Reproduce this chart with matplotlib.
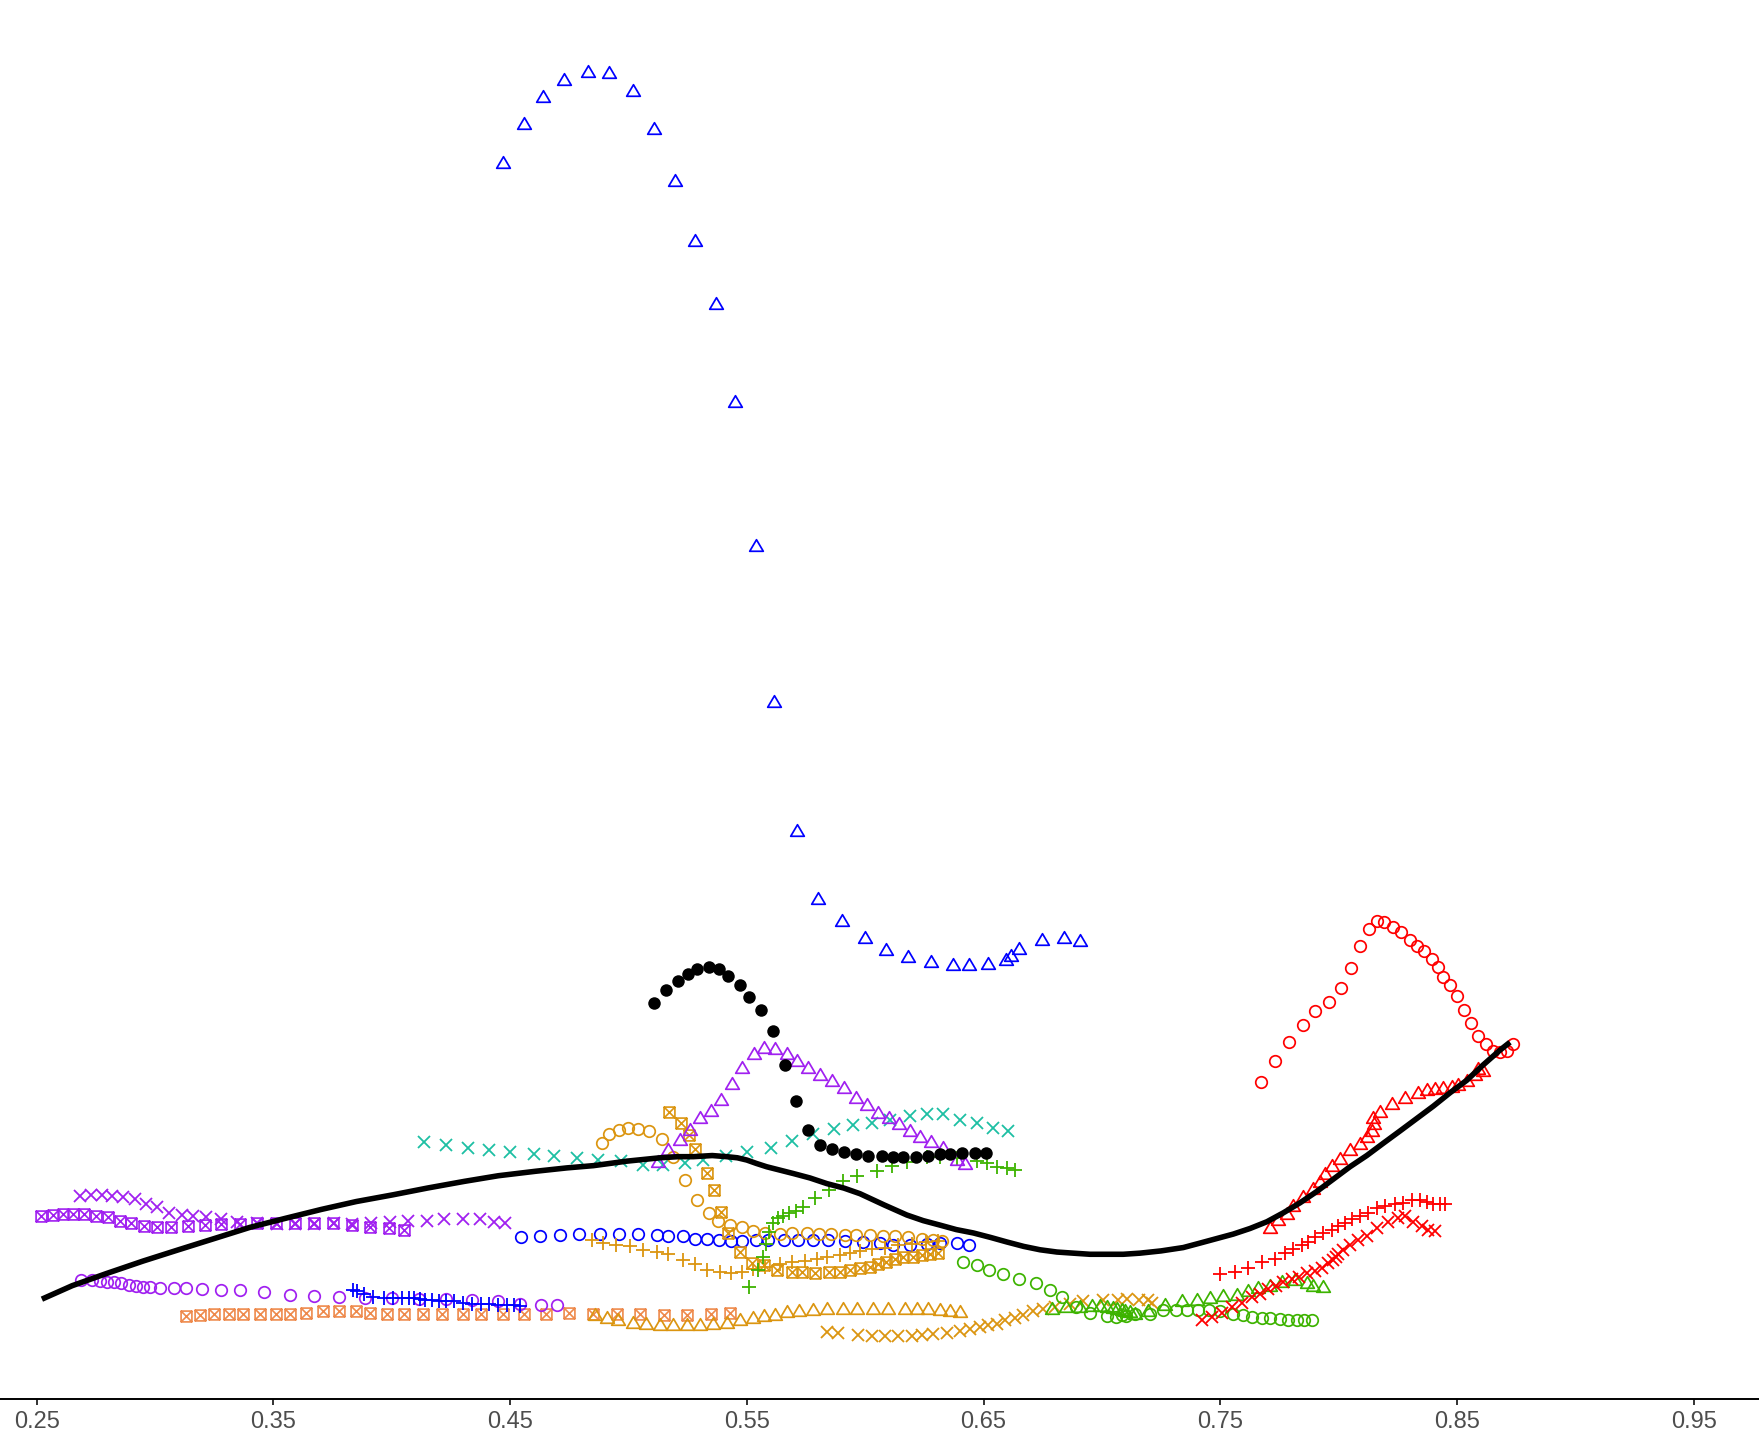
import matplotlib
matplotlib.use("Agg")
import matplotlib.pyplot as plt
from matplotlib.path import Path

# ---- data ----
blueTriX = [0.4468, 0.4558, 0.4639, 0.4729, 0.4828, 0.4918, 0.5018, 0.5108, 0.5198, 0.5279,
            0.5369, 0.5449, 0.5539, 0.5615, 0.5710, 0.5800, 0.5900, 0.5999, 0.6089, 0.6179,
            0.6279, 0.6369, 0.6440, 0.6520, 0.6596, 0.6615, 0.6648, 0.6748, 0.6838, 0.6909]
blueTriY = [11.03, 11.37, 11.61, 11.77, 11.84, 11.83, 11.67, 11.33, 10.87, 10.33,
            9.77, 8.90, 7.61, 6.22, 5.07, 4.47, 4.27, 4.12, 4.01, 3.95,
            3.90, 3.88, 3.88, 3.89, 3.92, 3.96, 4.02, 4.10, 4.12, 4.09]

blackX = [0.5109, 0.5159, 0.5209, 0.5250, 0.5290, 0.5340, 0.5381, 0.5421, 0.5470, 0.5511,
          0.5560, 0.5611, 0.5660, 0.5709, 0.5760, 0.5809, 0.5860, 0.5909, 0.5960, 0.6011,
          0.6070, 0.6119, 0.6161, 0.6214, 0.6266, 0.6316, 0.6360, 0.6410, 0.6464, 0.6509]
blackY = [3.53, 3.65, 3.73, 3.79, 3.83, 3.85, 3.83, 3.77, 3.69, 3.58,
          3.47, 3.28, 2.98, 2.66, 2.40, 2.26, 2.23, 2.20, 2.18, 2.17,
          2.17, 2.16, 2.16, 2.16, 2.17, 2.18, 2.18, 2.19, 2.19, 2.19]

purpleTriX = [0.5124, 0.5168, 0.5218, 0.5260, 0.5302, 0.5350, 0.5391, 0.5439, 0.5480, 0.5530,
              0.5571, 0.5620, 0.5670, 0.5711, 0.5760, 0.5811, 0.5860, 0.5911, 0.5960, 0.6009,
              0.6053, 0.6102, 0.6142, 0.6189, 0.6232, 0.6279, 0.6328, 0.6389, 0.6421]
purpleTriY = [2.12, 2.23, 2.32, 2.41, 2.51, 2.58, 2.67, 2.82, 2.96, 3.08,
              3.14, 3.13, 3.08, 3.02, 2.96, 2.90, 2.84, 2.78, 2.69, 2.63,
              2.56, 2.51, 2.46, 2.40, 2.34, 2.30, 2.25, 2.14, 2.10]

tealX = [0.4136, 0.4231, 0.4321, 0.4411, 0.4501, 0.4601, 0.4686, 0.4781, 0.4870, 0.4969,
         0.5060, 0.5147, 0.5239, 0.5316, 0.5411, 0.5500, 0.5601, 0.5692, 0.5781, 0.5870,
         0.5950, 0.6030, 0.6105, 0.6189, 0.6260, 0.6330, 0.6401, 0.6471, 0.6541, 0.6602]
tealY = [2.29, 2.26, 2.24, 2.22, 2.20, 2.18, 2.17, 2.15, 2.13, 2.12,
         2.09, 2.09, 2.10, 2.13, 2.17, 2.20, 2.24, 2.30, 2.36, 2.41,
         2.44, 2.46, 2.49, 2.52, 2.54, 2.54, 2.49, 2.46, 2.42, 2.39]

greenPlusX = [0.5509, 0.5547, 0.5568, 0.5581, 0.5594, 0.5611, 0.5632, 0.5653, 0.5678, 0.5708,
              0.5737, 0.5788, 0.5847, 0.5906, 0.5966, 0.6050, 0.6113, 0.6177, 0.6261, 0.6316,
              0.6388, 0.6473, 0.6515, 0.6557, 0.6599, 0.6633]
greenPlusY = [1.00, 1.15, 1.27, 1.38, 1.49, 1.57, 1.61, 1.63, 1.66, 1.68,
              1.71, 1.79, 1.86, 1.94, 1.99, 2.03, 2.08, 2.11, 2.16, 2.16,
              2.15, 2.12, 2.10, 2.07, 2.06, 2.04]

orangeCircX = [0.4890, 0.4919, 0.4960, 0.4999, 0.5042, 0.5088, 0.5140, 0.5189, 0.5239, 0.5288,
               0.5340, 0.5380, 0.5429, 0.5478, 0.5527, 0.5577, 0.5640, 0.5690, 0.5753, 0.5806,
               0.5854, 0.5915, 0.5960, 0.6020, 0.6077, 0.6126, 0.6182, 0.6239, 0.6285, 0.6323]
orangeCircY = [2.28, 2.36, 2.40, 2.42, 2.41, 2.39, 2.32, 2.16, 1.95, 1.77,
               1.66, 1.59, 1.55, 1.53, 1.50, 1.48, 1.47, 1.48, 1.48, 1.47,
               1.47, 1.46, 1.46, 1.46, 1.45, 1.45, 1.44, 1.43, 1.42, 1.41]

orangeSqX = [0.5171, 0.5221, 0.5257, 0.5281, 0.5330, 0.5361, 0.5390, 0.5422, 0.5471, 0.5523,
             0.5573, 0.5628, 0.5691, 0.5733, 0.5788, 0.5847, 0.5894, 0.5936, 0.5978, 0.6021,
             0.6056, 0.6090, 0.6126, 0.6161, 0.6203, 0.6239, 0.6274, 0.6309]
orangeSqY = [2.56, 2.46, 2.35, 2.23, 2.01, 1.86, 1.67, 1.48, 1.31, 1.21,
             1.19, 1.15, 1.13, 1.13, 1.12, 1.13, 1.13, 1.15, 1.17, 1.18,
             1.20, 1.22, 1.25, 1.27, 1.27, 1.28, 1.29, 1.30]

orangePlusX = [0.4845, 0.4894, 0.4947, 0.5007, 0.5063, 0.5119, 0.5168, 0.5229, 0.5281, 0.5331,
               0.5385, 0.5433, 0.5480, 0.5525, 0.5577, 0.5640, 0.5690, 0.5746, 0.5795, 0.5838,
               0.5894, 0.5936, 0.5978, 0.6029, 0.6084, 0.6139, 0.6198, 0.6257, 0.6308]
orangePlusY = [1.42, 1.39, 1.37, 1.36, 1.33, 1.31, 1.29, 1.24, 1.20, 1.15,
               1.13, 1.12, 1.13, 1.16, 1.18, 1.20, 1.22, 1.23, 1.25, 1.27,
               1.28, 1.30, 1.32, 1.34, 1.35, 1.37, 1.38, 1.40, 1.41]

blueCircX = [0.4548, 0.4628, 0.4711, 0.4791, 0.4880, 0.4960, 0.5039, 0.5122, 0.5168, 0.5229,
             0.5281, 0.5331, 0.5383, 0.5432, 0.5478, 0.5539, 0.5591, 0.5657, 0.5718, 0.5781,
             0.5844, 0.5915, 0.5990, 0.6063, 0.6119, 0.6189, 0.6263, 0.6316, 0.6389, 0.6440]
blueCircY = [1.44, 1.45, 1.46, 1.47, 1.47, 1.47, 1.47, 1.46, 1.45, 1.45,
             1.43, 1.43, 1.42, 1.41, 1.41, 1.42, 1.42, 1.42, 1.42, 1.42,
             1.42, 1.41, 1.40, 1.39, 1.37, 1.37, 1.38, 1.39, 1.39, 1.37]

orangeTriX = [0.4859, 0.4908, 0.4957, 0.5020, 0.5074, 0.5133, 0.5189, 0.5246, 0.5302, 0.5358,
              0.5415, 0.5471, 0.5525, 0.5573, 0.5619, 0.5669, 0.5722, 0.5778, 0.5838, 0.5908,
              0.5964, 0.6034, 0.6098, 0.6168, 0.6218, 0.6267, 0.6316, 0.6359, 0.6401]
orangeTriY = [0.76, 0.73, 0.71, 0.69, 0.68, 0.67, 0.67, 0.67, 0.67, 0.68,
              0.69, 0.71, 0.73, 0.75, 0.76, 0.78, 0.79, 0.80, 0.81, 0.81,
              0.81, 0.81, 0.81, 0.81, 0.81, 0.81, 0.80, 0.79, 0.78]

orangeXX = [0.5838, 0.5885, 0.5971, 0.6028, 0.6084, 0.6140, 0.6197, 0.6239, 0.6288, 0.6345,
            0.6401, 0.6443, 0.6485, 0.6520, 0.6556, 0.6591, 0.6633, 0.6668, 0.6710, 0.6753,
            0.6802, 0.6865, 0.6922, 0.7005, 0.7068, 0.7106, 0.7157, 0.7195, 0.7212]
orangeXY = [0.60, 0.59, 0.57, 0.56, 0.56, 0.56, 0.56, 0.57, 0.58, 0.59,
            0.61, 0.62, 0.64, 0.66, 0.67, 0.70, 0.72, 0.75, 0.78, 0.80,
            0.82, 0.85, 0.87, 0.88, 0.88, 0.89, 0.88, 0.88, 0.86]

coralSqX = [0.3129, 0.3190, 0.3250, 0.3311, 0.3371, 0.3442, 0.3510, 0.3570, 0.3639, 0.3710,
            0.3778, 0.3849, 0.3910, 0.3979, 0.4050, 0.4130, 0.4211, 0.4302, 0.4379, 0.4470,
            0.4560, 0.4650, 0.4750, 0.4849, 0.4950, 0.5049, 0.5150, 0.5249, 0.5349, 0.5429]
coralSqY = [0.74, 0.75, 0.76, 0.76, 0.76, 0.76, 0.76, 0.76, 0.77, 0.78,
            0.78, 0.78, 0.77, 0.76, 0.76, 0.76, 0.76, 0.76, 0.76, 0.76,
            0.76, 0.76, 0.77, 0.76, 0.76, 0.76, 0.75, 0.75, 0.76, 0.77]

purpleSqX = [0.2519, 0.2568, 0.2612, 0.2654, 0.2701, 0.2749, 0.2801, 0.2852, 0.2900, 0.2952,
             0.3009, 0.3069, 0.3140, 0.3209, 0.3280, 0.3359, 0.3431, 0.3510, 0.3590, 0.3670,
             0.3751, 0.3831, 0.3910, 0.3990, 0.4050]
purpleSqY = [1.63, 1.64, 1.65, 1.65, 1.65, 1.63, 1.62, 1.59, 1.57, 1.54,
             1.53, 1.53, 1.54, 1.55, 1.56, 1.56, 1.57, 1.57, 1.57, 1.57,
             1.57, 1.55, 1.53, 1.52, 1.51]

purpleXX = [0.2685, 0.2730, 0.2775, 0.2820, 0.2865, 0.2915, 0.2963, 0.3009, 0.3061, 0.3114,
            0.3160, 0.3217, 0.3277, 0.3345, 0.3431, 0.3514, 0.3590, 0.3670, 0.3756, 0.3831,
            0.3914, 0.3994, 0.4070, 0.4148, 0.4219, 0.4299, 0.4371, 0.4432, 0.4477]
purpleXY = [1.81, 1.82, 1.82, 1.81, 1.80, 1.78, 1.74, 1.71, 1.66, 1.64,
            1.63, 1.62, 1.60, 1.58, 1.57, 1.56, 1.56, 1.56, 1.57, 1.56,
            1.57, 1.58, 1.59, 1.59, 1.60, 1.60, 1.60, 1.58, 1.57]

purpleCircX = [0.2689, 0.2734, 0.2767, 0.2797, 0.2828, 0.2858, 0.2888, 0.2918, 0.2949, 0.2979,
               0.3021, 0.3081, 0.3129, 0.3200, 0.3280, 0.3361, 0.3459, 0.3570, 0.3670, 0.3778,
               0.3889, 0.4000, 0.4115, 0.4228, 0.4341, 0.4447, 0.4542, 0.4631, 0.4699]
purpleCircY = [1.06, 1.06, 1.05, 1.04, 1.04, 1.03, 1.02, 1.01, 1.00, 1.00,
               0.99, 0.99, 0.99, 0.98, 0.97, 0.97, 0.95, 0.93, 0.92, 0.91,
               0.90, 0.90, 0.89, 0.89, 0.88, 0.87, 0.85, 0.84, 0.84]

bluePlusX = [0.3836, 0.3854, 0.3884, 0.3922, 0.3967, 0.4005, 0.4042, 0.4072, 0.4095, 0.4118,
             0.4140, 0.4170, 0.4198, 0.4231, 0.4261, 0.4299, 0.4337, 0.4375, 0.4412, 0.4450,
             0.4487, 0.4518, 0.4540]
bluePlusY = [0.97, 0.96, 0.94, 0.91, 0.90, 0.90, 0.90, 0.90, 0.90, 0.89,
             0.88, 0.88, 0.87, 0.87, 0.87, 0.86, 0.85, 0.85, 0.85, 0.84,
             0.84, 0.84, 0.83]

greenCircX = [0.6412, 0.6471, 0.6523, 0.6581, 0.6651, 0.6721, 0.6781, 0.6830, 0.6891, 0.6950,
              0.7020, 0.7060, 0.7084, 0.7102, 0.7140, 0.7203, 0.7260, 0.7313, 0.7361, 0.7407,
              0.7454, 0.7499, 0.7553, 0.7598, 0.7633, 0.7675, 0.7711, 0.7753, 0.7788, 0.7823,
              0.7854, 0.7887]
greenCircY = [1.22, 1.19, 1.15, 1.11, 1.07, 1.03, 0.97, 0.91, 0.82, 0.77,
              0.74, 0.73, 0.75, 0.74, 0.76, 0.76, 0.79, 0.79, 0.79, 0.79,
              0.79, 0.78, 0.76, 0.75, 0.73, 0.72, 0.72, 0.71, 0.70, 0.70,
              0.70, 0.70]

greenTriX = [0.6789, 0.6849, 0.6908, 0.6958, 0.6992, 0.7022, 0.7047, 0.7064, 0.7084, 0.7098,
             0.7119, 0.7140, 0.7196, 0.7267, 0.7337, 0.7401, 0.7457, 0.7513, 0.7570, 0.7619,
             0.7661, 0.7711, 0.7760, 0.7816, 0.7865, 0.7893, 0.7933]
greenTriY = [0.81, 0.83, 0.83, 0.84, 0.84, 0.83, 0.82, 0.81, 0.80, 0.79,
             0.78, 0.77, 0.79, 0.85, 0.88, 0.89, 0.91, 0.93, 0.94, 0.97,
             1.00, 1.02, 1.05, 1.07, 1.04, 1.02, 1.01]

redCircX = [0.7672, 0.7732, 0.7792, 0.7851, 0.7900, 0.7961, 0.8010, 0.8051, 0.8091, 0.8130,
            0.8161, 0.8192, 0.8231, 0.8263, 0.8302, 0.8330, 0.8361, 0.8394, 0.8421, 0.8443,
            0.8471, 0.8502, 0.8530, 0.8560, 0.8590, 0.8623, 0.8651, 0.8682, 0.8710, 0.8736]
redCircY = [2.83, 3.01, 3.18, 3.33, 3.46, 3.54, 3.66, 3.84, 4.04, 4.19,
            4.26, 4.25, 4.21, 4.16, 4.09, 4.04, 3.99, 3.92, 3.85, 3.76,
            3.69, 3.59, 3.47, 3.35, 3.24, 3.16, 3.10, 3.09, 3.10, 3.16]

redTriX = [0.7710, 0.7745, 0.7781, 0.7809, 0.7851, 0.7893, 0.7922, 0.7943, 0.7971, 0.8006,
           0.8048, 0.8091, 0.8119, 0.8140, 0.8150, 0.8144, 0.8175, 0.8225, 0.8281, 0.8337,
           0.8372, 0.8408, 0.8443, 0.8478, 0.8506, 0.8541, 0.8576, 0.8590, 0.8612]
redTriY = [1.53, 1.60, 1.66, 1.73, 1.81, 1.88, 1.94, 2.01, 2.09, 2.15,
           2.23, 2.28, 2.34, 2.40, 2.46, 2.51, 2.57, 2.64, 2.69, 2.74,
           2.76, 2.77, 2.78, 2.79, 2.81, 2.84, 2.90, 2.95, 2.93]

redPlusX = [0.7499, 0.7563, 0.7619, 0.7675, 0.7732, 0.7774, 0.7809, 0.7844, 0.7872, 0.7900,
            0.7936, 0.7971, 0.7999, 0.8027, 0.8056, 0.8091, 0.8126, 0.8161, 0.8196, 0.8239,
            0.8274, 0.8309, 0.8344, 0.8372, 0.8400, 0.8429, 0.8450]
redPlusY = [1.11, 1.13, 1.17, 1.22, 1.25, 1.30, 1.34, 1.37, 1.40, 1.44,
            1.48, 1.51, 1.54, 1.57, 1.60, 1.63, 1.66, 1.70, 1.72, 1.74,
            1.75, 1.77, 1.77, 1.76, 1.74, 1.74, 1.74]

redXX = [0.7422, 0.7464, 0.7506, 0.7549, 0.7591, 0.7633, 0.7668, 0.7703, 0.7736, 0.7767,
         0.7802, 0.7834, 0.7865, 0.7900, 0.7929, 0.7957, 0.7975, 0.7989, 0.7999, 0.8020,
         0.8048, 0.8083, 0.8119, 0.8161, 0.8210, 0.8252, 0.8281, 0.8316, 0.8351, 0.8379,
         0.8408]
redXY = [0.70, 0.73, 0.77, 0.82, 0.86, 0.91, 0.94, 0.98, 1.01, 1.04,
         1.07, 1.09, 1.12, 1.14, 1.17, 1.21, 1.24, 1.27, 1.29, 1.33,
         1.37, 1.42, 1.45, 1.52, 1.58, 1.61, 1.63, 1.58, 1.54, 1.51,
         1.50]

# smooth trend line
smoothX = [0.2522, 0.2650, 0.2797, 0.2950, 0.3099, 0.3250, 0.3401, 0.3550, 0.3703, 0.3850,
           0.4005, 0.4150, 0.4307, 0.4450, 0.4608, 0.4740, 0.4852, 0.4993, 0.5133, 0.5210,
           0.5274, 0.5354, 0.5415, 0.5460, 0.5500, 0.5540, 0.5584, 0.5640, 0.5696, 0.5767,
           0.5838, 0.5910, 0.5978, 0.6080, 0.6176, 0.6245, 0.6316, 0.6385, 0.6457, 0.6530,
           0.6598, 0.6670, 0.6739, 0.6810, 0.6879, 0.6950, 0.7020, 0.7090, 0.7161, 0.7250,
           0.7344, 0.7415, 0.7485, 0.7555, 0.7626, 0.7697, 0.7767, 0.7838, 0.7908, 0.7978,
           0.8048, 0.8119, 0.8189, 0.8260, 0.8330, 0.8400, 0.8471, 0.8541, 0.8612, 0.8682,
           0.8724]
smoothY = [0.89, 1.01, 1.12, 1.23, 1.33, 1.43, 1.53, 1.61, 1.69, 1.76,
           1.82, 1.88, 1.94, 1.99, 2.03, 2.06, 2.08, 2.12, 2.15, 2.16,
           2.16, 2.17, 2.16, 2.15, 2.13, 2.10, 2.07, 2.04, 2.01, 1.97,
           1.92, 1.88, 1.83, 1.73, 1.64, 1.59, 1.55, 1.51, 1.48, 1.44,
           1.40, 1.36, 1.33, 1.31, 1.30, 1.29, 1.29, 1.29, 1.30, 1.32,
           1.35, 1.39, 1.43, 1.47, 1.52, 1.58, 1.66, 1.75, 1.85, 1.96,
           2.07, 2.17, 2.28, 2.39, 2.50, 2.61, 2.73, 2.84, 2.98, 3.11,
           3.18]

xTicks = [0.25, 0.35, 0.45, 0.55, 0.65, 0.75, 0.85, 0.95]

# ---- marker shapes like the ggplot ones ----
triPath = Path([(-1, -0.85), (1, -0.85), (0, 0.85), (-1, -0.85)],
               [Path.MOVETO, Path.LINETO, Path.LINETO, Path.CLOSEPOLY])
boxCrossPath = Path([(-1, -1), (1, -1), (1, 1), (-1, 1), (-1, -1),
                     (-1, -1), (1, 1), (-1, 1), (1, -1)],
                    [Path.MOVETO, Path.LINETO, Path.LINETO, Path.LINETO, Path.CLOSEPOLY,
                     Path.MOVETO, Path.LINETO, Path.MOVETO, Path.LINETO])

BLUE = "#0000FF"
RED = "#FF0000"
PURPLE = "#A020F0"
GREEN = "#3DB300"
TEAL = "#1DBFA3"
GOLD = "#DB9510"
CORAL = "#EE8A4C"


def drawSeries(ax, x, y, color, shape):
    if shape == "circle":
        ax.plot(x, y, linestyle="none", marker="o", ms=8.3, mfc="none", mec=color, mew=1.25)
    elif shape == "triangle":
        ax.plot(x, y, linestyle="none", marker=triPath, ms=9.8, mfc="none", mec=color, mew=1.25)
    elif shape == "plus":
        ax.plot(x, y, linestyle="none", marker="+", ms=10.5, mec=color, mew=1.3)
    elif shape == "cross":
        ax.plot(x, y, linestyle="none", marker="x", ms=8.3, mec=color, mew=1.3)
    elif shape == "box":
        ax.plot(x, y, linestyle="none", marker=boxCrossPath, ms=7.8, mfc="none", mec=color, mew=1.2)
    elif shape == "dot":
        ax.plot(x, y, linestyle="none", marker="o", ms=9, mfc=color, mec=color, mew=0)


plt.rcParams["font.family"] = ["Liberation Sans", "DejaVu Sans"]
fig = plt.figure(figsize=(17.59, 14.31), dpi=100)
ax = fig.add_axes([0, 1 - 1399 / 1431, 1, 1399 / 1431])

drawSeries(ax, coralSqX, coralSqY, CORAL, "box")
drawSeries(ax, purpleCircX, purpleCircY, PURPLE, "circle")
drawSeries(ax, purpleSqX, purpleSqY, PURPLE, "box")
drawSeries(ax, purpleXX, purpleXY, PURPLE, "cross")
drawSeries(ax, bluePlusX, bluePlusY, BLUE, "plus")
drawSeries(ax, tealX, tealY, TEAL, "cross")
drawSeries(ax, blueCircX, blueCircY, BLUE, "circle")
drawSeries(ax, orangeTriX, orangeTriY, GOLD, "triangle")
drawSeries(ax, orangeXX, orangeXY, GOLD, "cross")
drawSeries(ax, orangePlusX, orangePlusY, GOLD, "plus")
drawSeries(ax, orangeCircX, orangeCircY, GOLD, "circle")
drawSeries(ax, orangeSqX, orangeSqY, GOLD, "box")
drawSeries(ax, greenCircX, greenCircY, GREEN, "circle")
drawSeries(ax, greenTriX, greenTriY, GREEN, "triangle")
drawSeries(ax, greenPlusX, greenPlusY, GREEN, "plus")
drawSeries(ax, purpleTriX, purpleTriY, PURPLE, "triangle")
drawSeries(ax, blackX, blackY, "black", "dot")
drawSeries(ax, blueTriX, blueTriY, BLUE, "triangle")
drawSeries(ax, redCircX, redCircY, RED, "circle")
drawSeries(ax, redTriX, redTriY, RED, "triangle")
drawSeries(ax, redPlusX, redPlusY, RED, "plus")
drawSeries(ax, redXX, redXY, RED, "cross")

ax.plot(smoothX, smoothY, color="black", linewidth=4.0,
        solid_capstyle="butt", solid_joinstyle="round")

ax.set_xlim(0.2345, 0.9776)
ax.set_ylim(0, 12.47)
ax.set_xticks(xTicks)
ax.set_xticklabels(["%.2f" % t for t in xTicks])
ax.set_yticks([])
for side in ["top", "right", "left"]:
    ax.spines[side].set_visible(False)
ax.spines["bottom"].set_linewidth(1.4)
ax.spines["bottom"].set_color("black")
ax.tick_params(axis="x", length=4.5, width=1.4, color="#333333",
               labelsize=17, labelcolor="#4D4D4D", pad=4)
ax.patch.set_alpha(0)
for line in ax.lines:
    line.set_clip_on(False)

fig.savefig("out.png", dpi=100)
